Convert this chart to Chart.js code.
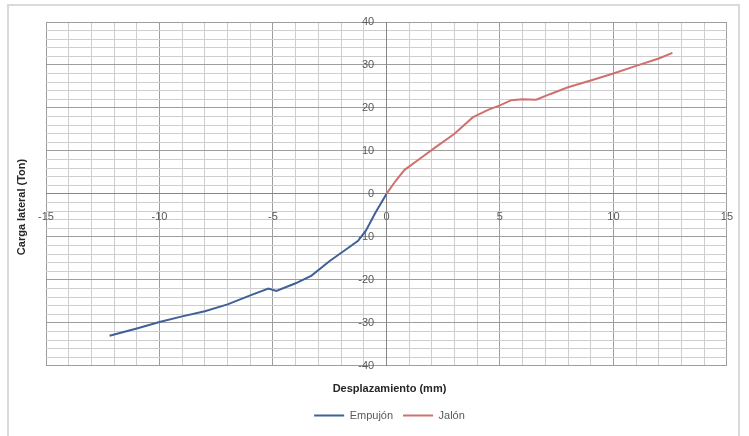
<!DOCTYPE html>
<html>
<head>
<meta charset="utf-8">
<script src="https://cdn.jsdelivr.net/npm/chart.js@4/dist/chart.umd.min.js"></script>
<style>
    body { margin: 0; background: #fff; }
    #wrap { position: relative; width: 749px; height: 436px; }
    #frame { position: absolute; left: 7px; top: 4px; width: 733px; height: 450px; border: 2px solid #dadada; box-sizing: border-box; }
    canvas { position: absolute; left: 0; top: 0; }
</style>
</head>
<body>
<div id="wrap">
    <div id="frame"></div>
    <canvas id="hysteresisChart" width="749" height="436"></canvas>
</div>
<script>
// Empujón (push) branch
const empujonX = [-12.2, -11, -10, -9, -8, -7, -6, -5.2, -4.85, -4, -3.3, -2.5, -1.8, -1.25, -0.9, -0.5, 0];
const empujonY = [-33, -31.3, -29.8, -28.5, -27.3, -25.7, -23.6, -22, -22.6, -20.8, -19, -15.6, -13, -10.9, -8.5, -4.5, 0];

// Jalón (pull) branch
const jalonX = [0, 0.4, 0.8, 1.5, 2.2, 3, 3.8, 4.5, 5, 5.5, 6, 6.6, 7.2, 8, 9, 10, 11, 12, 12.6];
const jalonY = [0, 3, 5.6, 8.3, 11, 14, 17.8, 19.6, 20.6, 21.8, 22, 21.9, 23.2, 24.8, 26.4, 28, 29.8, 31.5, 32.8];

const xTicks = { min: -15, max: 15, step: 1, labelEvery: 5 };
const yTicks = { min: -40, max: 40, step: 2, labelEvery: 10 };

const seriesNames = ['Empujón', 'Jalón'];
const xTitle = 'Desplazamiento (mm)';
const yTitle = 'Carga lateral (Ton)';

function toPoints(xs, ys) {
    return xs.map((x, i) => ({ x: x, y: ys[i] }));
}

function gridColor(every) {
    return (c) => (c.tick && c.tick.value % every === 0) ? '#9d9d9d' : '#cecece';
}

// y axis title drawn at the left edge, like the spreadsheet original
const yTitlePlugin = {
    id: 'yTitle',
    afterDraw(chart) {
        const ctx = chart.ctx;
        ctx.save();
        ctx.translate(22, 207);
        ctx.rotate(-Math.PI / 2);
        ctx.font = 'bold 11px "Liberation Sans", Arial, sans-serif';
        ctx.fillStyle = '#262626';
        ctx.textAlign = 'center';
        ctx.textBaseline = 'middle';
        ctx.fillText(yTitle, 0, 0);
        ctx.restore();
    }
};

const font = { family: '"Liberation Sans", Arial, sans-serif', size: 11 };

const ctx = document.getElementById('hysteresisChart').getContext('2d');
new Chart(ctx, {
    type: 'line',
    data: {
        datasets: [{
            label: seriesNames[0],
            data: toPoints(empujonX, empujonY),
            borderColor: '#3f6099',
            backgroundColor: '#3f6099',
            borderWidth: 2,
            pointRadius: 0,
            tension: 0
        }, {
            label: seriesNames[1],
            data: toPoints(jalonX, jalonY),
            borderColor: '#d0706f',
            backgroundColor: '#d0706f',
            borderWidth: 2,
            pointRadius: 0,
            tension: 0
        }]
    },
    options: {
        responsive: false,
        animation: false,
        layout: {
            padding: { left: 46, right: 16, top: 22, bottom: 5 }
        },
        plugins: {
            legend: {
                position: 'bottom',
                labels: {
                    usePointStyle: true,
                    pointStyle: 'line',
                    pointStyleWidth: 30,
                    color: '#595959',
                    font: font,
                    padding: 10
                }
            },
            title: {
                display: true,
                position: 'bottom',
                weight: 500,
                text: xTitle,
                color: '#262626',
                font: { family: font.family, size: 11, weight: 'bold' },
                padding: { top: 17, bottom: 4 }
            },
            tooltip: { enabled: false }
        },
        scales: {
            x: {
                type: 'linear',
                position: { y: 0 },
                min: xTicks.min,
                max: xTicks.max,
                ticks: {
                    stepSize: xTicks.step,
                    autoSkip: false,
                    maxRotation: 0,
                    padding: 16,
                    color: '#595959',
                    font: font,
                    callback: (v) => v % xTicks.labelEvery === 0 ? v : ''
                },
                grid: { color: gridColor(5), drawTicks: false },
                border: { color: '#868686', width: 1 }
            },
            y: {
                type: 'linear',
                position: { x: 0 },
                min: yTicks.min,
                max: yTicks.max,
                ticks: {
                    stepSize: yTicks.step,
                    autoSkip: false,
                    color: '#595959',
                    font: font,
                    // centred axes ignore tick padding, so pad the label text instead
                    callback: (v) => v % yTicks.labelEvery === 0 ? v + '    ' : ''
                },
                grid: { color: gridColor(10), drawTicks: false },
                border: { color: '#868686', width: 1 }
            }
        }
    },
    plugins: [yTitlePlugin]
});
</script>
</body>
</html>
